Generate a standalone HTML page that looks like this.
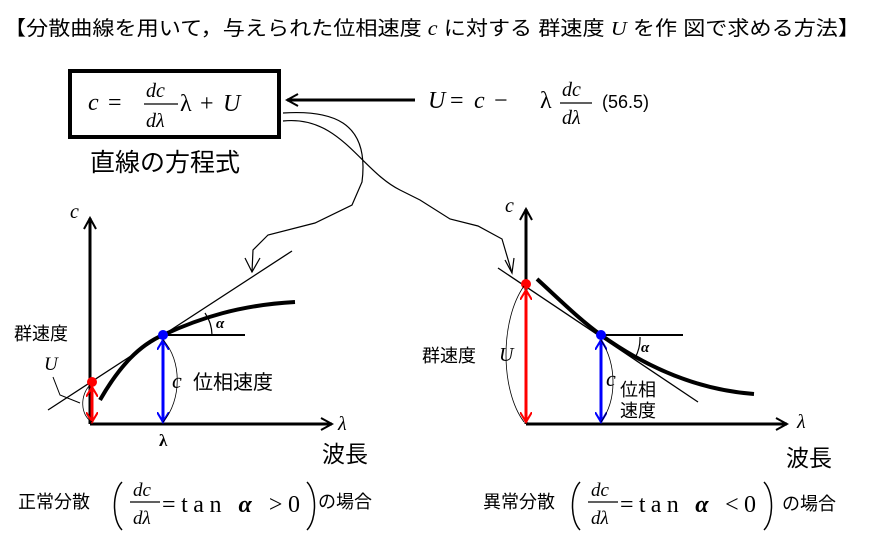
<!DOCTYPE html>
<html><head><meta charset="utf-8"><style>
body{margin:0;background:#fff;}
svg{display:block;}
text{font-family:"Liberation Serif","Noto Serif CJK SC",serif;}
.j{font-family:"Liberation Sans","Noto Sans CJK JP",sans-serif;}
.i{font-style:italic;}
</style></head><body>
<svg width="870" height="549" viewBox="0 0 870 549" xmlns="http://www.w3.org/2000/svg">
<defs>
<marker id="ob" markerWidth="14" markerHeight="14" refX="12" refY="7" orient="auto" markerUnits="userSpaceOnUse"><path d="M1,1 L12,7 L1,13" fill="none" stroke="#000" stroke-width="2"/></marker>
<marker id="rr" markerWidth="12" markerHeight="12" refX="10" refY="6" orient="auto-start-reverse" markerUnits="userSpaceOnUse"><path d="M0,0 L10,6 L0,12" fill="none" stroke="#f00" stroke-width="2"/></marker>
<marker id="bb" markerWidth="12" markerHeight="12" refX="10" refY="6" orient="auto-start-reverse" markerUnits="userSpaceOnUse"><path d="M0,0 L10,6 L0,12" fill="none" stroke="#00f" stroke-width="2"/></marker>
</defs>
<text x="4" y="35" class="j" font-size="20" textLength="856" lengthAdjust="spacingAndGlyphs">【分散曲線を用いて，与えられた位相速度 <tspan class="i" font-family="Liberation Serif">c</tspan> に対する 群速度 <tspan class="i" font-family="Liberation Serif">U</tspan> を作 図で求める方法】</text>
<rect x="70" y="71" width="209" height="66" fill="none" stroke="#000" stroke-width="4"/>
<text x="88" y="110" font-size="24" class="i">c</text>
<text x="108" y="110" font-size="24">=</text>
<text x="146" y="97" font-size="20" class="i">dc</text>
<line x1="144" y1="104" x2="178" y2="104" stroke="#000" stroke-width="1.3"/>
<text x="146" y="127" font-size="20" class="i">dλ</text>
<text x="180" y="111" font-size="24">λ</text>
<text x="200" y="111" font-size="24">+</text>
<text x="223" y="111" font-size="24" class="i">U</text>
<line x1="415" y1="100" x2="287" y2="100" stroke="#000" stroke-width="3" marker-end="url(#ob)"/>
<text x="428" y="108" font-size="24" class="i">U</text>
<text x="450" y="108" font-size="24">=</text>
<text x="474" y="108" font-size="24" class="i">c</text>
<text x="494" y="108" font-size="24">−</text>
<text x="540" y="108" font-size="24">λ</text>
<text x="562" y="96" font-size="20" class="i">dc</text>
<line x1="560" y1="103" x2="592" y2="103" stroke="#000" stroke-width="1.3"/>
<text x="562" y="124" font-size="20" class="i">dλ</text>
<text x="602" y="108" class="j" font-size="18">(56.5)</text>
<text x="90" y="171" class="j" font-size="25">直線の方程式</text>
<path d="M283,113 C330,110 370,120 362,182 L352,205 L315,223 L268,235 L253,250 L252,272" fill="none" stroke="#000" stroke-width="1.2"/>
<path d="M245,258 L252,272 L260,258" fill="none" stroke="#000" stroke-width="1.2"/>
<path d="M283,121 C340,115 360,170 400,190 L420,200 L450,219 L478,226 L502,239 L512,273" fill="none" stroke="#000" stroke-width="1.2"/>
<path d="M505,260 L512,273 L514,258" fill="none" stroke="#000" stroke-width="1.2"/>
<!-- left graph -->
<line x1="90" y1="424" x2="90" y2="218" stroke="#000" stroke-width="3" marker-end="url(#ob)"/>
<line x1="90" y1="424" x2="332" y2="424" stroke="#000" stroke-width="3" marker-end="url(#ob)"/>
<text x="70" y="218" font-size="20" class="i">c</text>
<text x="338" y="430" font-size="20" class="i">λ</text>
<text x="322" y="462" class="j" font-size="23">波長</text>
<line x1="48" y1="410" x2="292" y2="251" stroke="#000" stroke-width="1.3"/>
<path d="M100,400 C120,365 140,345 163,335 C200,318 240,305 295,302" fill="none" stroke="#000" stroke-width="4"/>
<line x1="163" y1="335" x2="245" y2="335" stroke="#000" stroke-width="2"/>
<path d="M205,313 A40,40 0 0 1 212,335" fill="none" stroke="#000" stroke-width="1.2"/>
<text x="216" y="328" font-size="15" font-weight="bold" class="i">α</text>
<line x1="163" y1="340" x2="163" y2="422" stroke="#00f" stroke-width="3" marker-start="url(#bb)" marker-end="url(#bb)"/>
<circle cx="163" cy="335" r="5" fill="#00f"/>
<line x1="92" y1="387" x2="92" y2="422" stroke="#f00" stroke-width="3" marker-start="url(#rr)" marker-end="url(#rr)"/>
<circle cx="92" cy="382" r="5" fill="#f00"/>
<path d="M163,340 C182,360 182,400 163,422" fill="none" stroke="#000" stroke-width="0.8"/>
<path d="M90,385 C80,395 80,415 92,422" fill="none" stroke="#000" stroke-width="0.8"/>
<text x="14" y="340" class="j" font-size="18">群速度</text>
<text x="44" y="370" font-size="19" class="i">U</text>
<path d="M53,377 L60,395 L80,403" fill="none" stroke="#000" stroke-width="1"/>
<text x="172" y="388" font-size="22" class="i">c</text>
<text x="193" y="389" class="j" font-size="20">位相速度</text>
<text x="159" y="446" font-size="17" font-weight="bold">λ</text>
<!-- right graph -->
<line x1="526" y1="424" x2="526" y2="209" stroke="#000" stroke-width="3" marker-end="url(#ob)"/>
<line x1="526" y1="424" x2="787" y2="424" stroke="#000" stroke-width="3" marker-end="url(#ob)"/>
<text x="505" y="212" font-size="20" class="i">c</text>
<text x="797" y="428" font-size="20" class="i">λ</text>
<text x="786" y="466" class="j" font-size="23">波長</text>
<line x1="498" y1="268" x2="698" y2="402" stroke="#000" stroke-width="1.3"/>
<path d="M537,279 C560,300 580,320 601,335 C650,370 700,390 754,394" fill="none" stroke="#000" stroke-width="4"/>
<line x1="601" y1="335" x2="683" y2="335" stroke="#000" stroke-width="2"/>
<path d="M640,337 A40,40 0 0 1 635,358" fill="none" stroke="#000" stroke-width="1.2"/>
<text x="641" y="352" font-size="15" font-weight="bold" class="i">α</text>
<line x1="526" y1="290" x2="526" y2="422" stroke="#f00" stroke-width="3" marker-start="url(#rr)" marker-end="url(#rr)"/>
<circle cx="526" cy="284" r="5" fill="#f00"/>
<line x1="601" y1="340" x2="601" y2="422" stroke="#00f" stroke-width="3" marker-start="url(#bb)" marker-end="url(#bb)"/>
<circle cx="601" cy="335" r="5" fill="#00f"/>
<path d="M524,286 C500,320 500,390 524,422" fill="none" stroke="#000" stroke-width="0.8"/>
<path d="M601,340 C617,365 617,400 601,422" fill="none" stroke="#000" stroke-width="0.8"/>
<text x="422" y="362" class="j" font-size="18">群速度</text>
<text x="499" y="361" font-size="20" class="i">U</text>
<text x="606" y="386" font-size="22" class="i">c</text>
<text x="620" y="396" class="j" font-size="18">位相</text>
<text x="620" y="417" class="j" font-size="18">速度</text>
<!-- bottom -->
<text x="18" y="508" class="j" font-size="18">正常分散</text>
<path d="M122,482 C112,492 112,520 122,530" fill="none" stroke="#000" stroke-width="1.5"/>
<text x="133" y="496" font-size="19" class="i">dc</text>
<line x1="130" y1="502" x2="160" y2="502" stroke="#000" stroke-width="1.3"/>
<text x="133" y="524" font-size="19" class="i">dλ</text>
<text x="162" y="512" font-size="24" textLength="138" lengthAdjust="spacing">=tan<tspan font-weight="bold" class="i"> α </tspan>&gt;0</text>
<path d="M307,482 C317,492 317,520 307,530" fill="none" stroke="#000" stroke-width="1.5"/>
<text x="318" y="508" class="j" font-size="18">の場合</text>
<text x="483" y="508" class="j" font-size="18">異常分散</text>
<path d="M580,482 C570,492 570,520 580,530" fill="none" stroke="#000" stroke-width="1.5"/>
<text x="591" y="496" font-size="19" class="i">dc</text>
<line x1="588" y1="502" x2="618" y2="502" stroke="#000" stroke-width="1.3"/>
<text x="591" y="524" font-size="19" class="i">dλ</text>
<text x="620" y="512" font-size="24" textLength="136" lengthAdjust="spacing">=tan<tspan font-weight="bold" class="i"> α </tspan>&lt;0</text>
<path d="M764,482 C774,492 774,520 764,530" fill="none" stroke="#000" stroke-width="1.5"/>
<text x="782" y="510" class="j" font-size="18">の場合</text>
</svg>
</body></html>
